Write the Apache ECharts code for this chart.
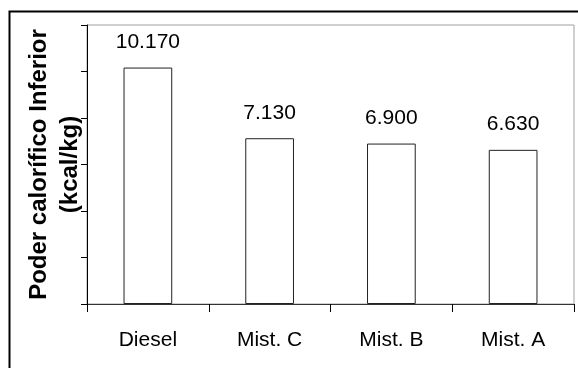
<!DOCTYPE html>
<html>
<head>
<meta charset="utf-8">
<script src="https://cdn.jsdelivr.net/npm/echarts@6/dist/echarts.min.js"></script>
<style>
  html, body { margin: 0; padding: 0; background: #fff; }
  #chart { width: 578px; height: 368px; }
</style>
</head>
<body>
<div id="chart"></div>
<script>
// Lower heating value per fuel (kcal/kg)
const categories = ['Diesel', 'Mist. C', 'Mist. B', 'Mist. A'];
const values = [10170, 7130, 6900, 6630];
const yAxisTitle = 'Poder calorífico Inferior\n(kcal/kg)';

// thousands separator as a dot: 10170 -> "10.170"
function fmt(v) {
  return String(v).replace(/\B(?=(\d{3})+(?!\d))/g, '.');
}

const chart = echarts.init(document.getElementById('chart'), null, { renderer: 'canvas' });
const font = '"Liberation Sans", Arial, sans-serif';

chart.setOption({
  animation: false,
  backgroundColor: '#fff',
  graphic: [{
    type: 'rect',
    shape: { x: 9.5, y: 11.5, width: 600, height: 400 },
    style: { fill: 'none', stroke: '#000', lineWidth: 2 },
    silent: true,
    z: -10
  }],
  grid: {
    left: 87, top: 25, right: 4, bottom: 64,
    show: true,
    borderColor: '#a0a0a0',
    borderWidth: 1,
    backgroundColor: 'transparent'
  },
  xAxis: {
    type: 'category',
    data: categories,
    boundaryGap: true,
    axisLine: { lineStyle: { color: '#333', width: 1 } },
    axisTick: { show: true, length: 8, inside: false, lineStyle: { color: '#000' } },
    axisLabel: { color: '#000', fontFamily: font, fontSize: 21, margin: 26 },
    splitLine: { show: false }
  },
  yAxis: {
    type: 'value',
    min: 0, max: 12000, interval: 2000,
    name: yAxisTitle,
    nameLocation: 'middle',
    nameRotate: 90,
    nameGap: 1,
    nameTextStyle: {
      color: '#000', fontFamily: font, fontSize: 24, fontWeight: 'bold',
      lineHeight: 31, align: 'center'
    },
    axisLine: { show: true, lineStyle: { color: '#000', width: 1 } },
    axisTick: { show: true, length: 6, inside: false, lineStyle: { color: '#000' } },
    axisLabel: { show: false },
    splitLine: { show: false }
  },
  series: [{
    type: 'bar',
    data: values,
    barCategoryGap: '60%',
    itemStyle: { color: '#fff', borderColor: '#222', borderWidth: 1 },
    label: {
      show: true,
      position: 'top',
      distance: 15,
      color: '#000',
      fontFamily: font,
      fontSize: 21,
      formatter: p => fmt(p.value)
    }
  }]
});
</script>
</body>
</html>
